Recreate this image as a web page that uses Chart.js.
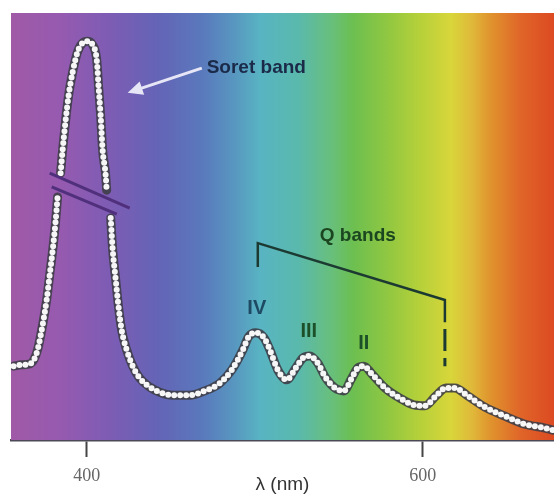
<!DOCTYPE html>
<html>
<head>
<meta charset="utf-8">
<script src="https://cdn.jsdelivr.net/npm/chart.js@4.4.1/dist/chart.umd.min.js"></script>
<style>
  html, body { margin: 0; padding: 0; background: #fff; }
  #chart { display: block; }
</style>
</head>
<body>
<canvas id="chart" width="554" height="497"></canvas>
<script>
// Absorption spectrum (arbitrary units). null = axis break on the Soret band.
const wavelength = [
  356.5, 361.3, 366.1, 368.5, 370.8, 373.8, 376.2, 378.0, 379.8, 381.5, 382.7, 383.6,
  384.5, 385.7, 387.5, 389.3, 391.7, 394.6, 397.6, 400.6, 403.6, 406.0, 407.1, 408.3,
  409.5, 411.3, 411.9, 413.0, 414.3, 415.5, 417.3, 418.5, 420.8, 423.8, 427.4, 431.5,
  437.5, 443.5, 451.2, 461.3, 470.2, 479.2, 486.3, 492.9, 496.4, 500.6, 505.4, 509.0,
  513.7, 519.0, 524.4, 528.6, 532.7, 537.5, 542.3, 547.6, 553.0, 557.7, 561.3, 564.9,
  569.6, 577.4, 586.3, 594.6, 601.2, 607.7, 613.7, 619.0, 626.8, 636.9, 648.8, 660.7,
  672.6, 677.4
];
const absorbance = [
  17.3, 17.6, 17.8, 18.7, 21.1, 26.9, 32.8, 38.6, 44.5, 51.1, 56.9, null,
  62.5, 67.9, 74.9, 80.8, 86.2, 90.9, 93.0, 93.4, 92.5, 89.0, 82.7, 76.1,
  67.9, 62.1, 58.5, null, 52.0, 44.5, 37.5, 32.8, 25.8, 21.1, 17.3, 14.5,
  12.4, 11.2, 10.5, 10.5, 11.5, 13.3, 16.4, 21.1, 24.2, 25.1, 24.0, 21.1,
  16.4, 14.1, 16.9, 19.2, 19.7, 18.0, 14.5, 12.2, 11.5, 14.5, 16.9, 17.3,
  15.5, 12.2, 9.8, 8.2, 8.0, 10.3, 12.2, 12.2, 10.3, 7.7, 5.6, 3.7,
  2.8, 2.3
];
const xTicks = [400, 600];
const qBandNames = ['IV', 'III', 'II', 'I'];
const qBandWavelength = [501.2, 532.1, 564.9, 613.1];
const qBandLabelY = [30.9, 25.3, 22.7, null];

const points = wavelength.map((x, i) => ({ x, y: absorbance[i] }));

const spectrumBackground = {
  id: 'spectrumBackground',
  beforeDatasetsDraw(chart) {
    const { ctx, chartArea: a } = chart;
    const g = ctx.createLinearGradient(a.left, 0, a.right, 0);
    const stops = [
      [0, '#a05aa6'], [0.09, '#965ab0'], [0.18, '#7e5cb4'], [0.27, '#6464b6'],
      [0.35, '#5a78bc'], [0.41, '#5896c0'], [0.46, '#58b4c2'], [0.53, '#5ab9ac'],
      [0.59, '#68bf7c'], [0.63, '#6cbf50'], [0.70, '#94c840'], [0.75, '#b4d03a'],
      [0.81, '#d8d63a'], [0.85, '#e0b83a'], [0.88, '#e0962e'], [0.94, '#e06428'],
      [1, '#dc4a22']
    ];
    stops.forEach(([o, c]) => g.addColorStop(o, c));
    ctx.save();
    ctx.fillStyle = g;
    ctx.fillRect(a.left, a.top, a.right - a.left, a.bottom - a.top);
    ctx.restore();
  }
};

const annotations = {
  id: 'annotations',
  afterDatasetsDraw(chart) {
    const { ctx } = chart;
    const xs = chart.scales.x, ys = chart.scales.y;
    const X = v => xs.getPixelForValue(v);
    const Y = v => ys.getPixelForValue(v);
    ctx.save();

    // axis break marks on the Soret band
    ctx.strokeStyle = '#50307c';
    ctx.lineWidth = 3;
    ctx.beginPath();
    ctx.moveTo(X(378.0), Y(62.5)); ctx.lineTo(X(425.6), Y(54.3));
    ctx.moveTo(X(379.2), Y(59.3)); ctx.lineTo(X(417.9), Y(52.9));
    ctx.stroke();

    // arrow to the Soret band
    const tx = X(468.5), ty = Y(87.1), hx = X(424.4), hy = Y(81.3);
    const ang = Math.atan2(hy - ty, hx - tx);
    ctx.strokeStyle = '#e6e6f6';
    ctx.fillStyle = '#e6e6f6';
    ctx.lineWidth = 3;
    ctx.beginPath();
    ctx.moveTo(tx, ty);
    ctx.lineTo(hx - 10 * Math.cos(ang), hy - 10 * Math.sin(ang));
    ctx.stroke();
    ctx.beginPath();
    ctx.moveTo(hx, hy);
    ctx.lineTo(hx - 15 * Math.cos(ang) + 7 * Math.sin(ang), hy - 15 * Math.sin(ang) - 7 * Math.cos(ang));
    ctx.lineTo(hx - 15 * Math.cos(ang) - 7 * Math.sin(ang), hy - 15 * Math.sin(ang) + 7 * Math.cos(ang));
    ctx.closePath();
    ctx.fill();

    ctx.font = 'bold 19px "Liberation Sans", Arial, sans-serif';
    ctx.textBaseline = 'middle';
    ctx.textAlign = 'left';
    ctx.fillStyle = '#1a2a48';
    ctx.fillText('Soret band', X(471.4), Y(87.1));

    // Q bands bracket
    ctx.strokeStyle = '#1c3a32';
    ctx.lineWidth = 2.5;
    ctx.beginPath();
    ctx.moveTo(X(501.8), Y(40.5));
    ctx.lineTo(X(501.8), Y(46.1));
    ctx.lineTo(X(613.1), Y(32.8));
    ctx.lineTo(X(613.1), Y(27.6));
    ctx.stroke();
    ctx.lineWidth = 3;
    ctx.setLineDash([22, 7]);
    ctx.beginPath();
    ctx.moveTo(X(613.1), Y(26.0));
    ctx.lineTo(X(613.1), Y(17.3));
    ctx.stroke();
    ctx.setLineDash([]);

    ctx.textAlign = 'center';
    ctx.fillStyle = '#1c4620';
    ctx.fillText('Q bands', X(561.3), Y(47.9));

    ctx.font = 'bold 20px "Liberation Sans", Arial, sans-serif';
    qBandNames.forEach((name, i) => {
      if (qBandLabelY[i] == null) return;
      ctx.fillStyle = i === 0 ? '#1e4a64' : '#1c5028';
      ctx.fillText(name, X(qBandWavelength[i]), Y(qBandLabelY[i]));
    });
    ctx.restore();
  }
};

new Chart(document.getElementById('chart'), {
  type: 'line',
  data: {
    datasets: [
      {
        label: 'beads',
        data: points,
        borderColor: '#f6f6f6',
        borderWidth: 6,
        borderDash: [0, 6],
        borderCapStyle: 'round',
        cubicInterpolationMode: 'monotone',
        pointRadius: 0,
        spanGaps: false
      },
      {
        label: 'outline',
        data: points,
        borderColor: 'rgba(62,62,72,0.9)',
        borderWidth: 9,
        borderCapStyle: 'round',
        cubicInterpolationMode: 'monotone',
        pointRadius: 0,
        spanGaps: false
      }
    ]
  },
  options: {
    responsive: false,
    animation: false,
    layout: { padding: { left: 11, top: 13, right: 0, bottom: 0 } },
    plugins: { legend: { display: false }, tooltip: { enabled: false } },
    scales: {
      x: {
        type: 'linear',
        min: 355,
        max: 678,
        afterBuildTicks: axis => { axis.ticks = xTicks.map(value => ({ value })); },
        afterFit: axis => { axis.height = 57; },
        grid: { display: true, drawOnChartArea: false, drawTicks: true, tickLength: 17, tickColor: '#444', tickWidth: 2 },
        border: { display: true, color: '#4a4a56', width: 2.5 },
        ticks: {
          padding: 8,
          color: '#666',
          font: { family: '"Liberation Serif", serif', size: 18 },
          callback: v => String(v)
        },
        title: {
          display: true,
          text: 'λ (nm)',
          color: '#333',
          font: { family: '"Liberation Sans", Arial, sans-serif', size: 19 },
          padding: { top: 0, bottom: 1 }
        }
      },
      y: { display: false, min: 0, max: 100 }
    }
  },
  plugins: [spectrumBackground, annotations]
});
</script>
</body>
</html>
